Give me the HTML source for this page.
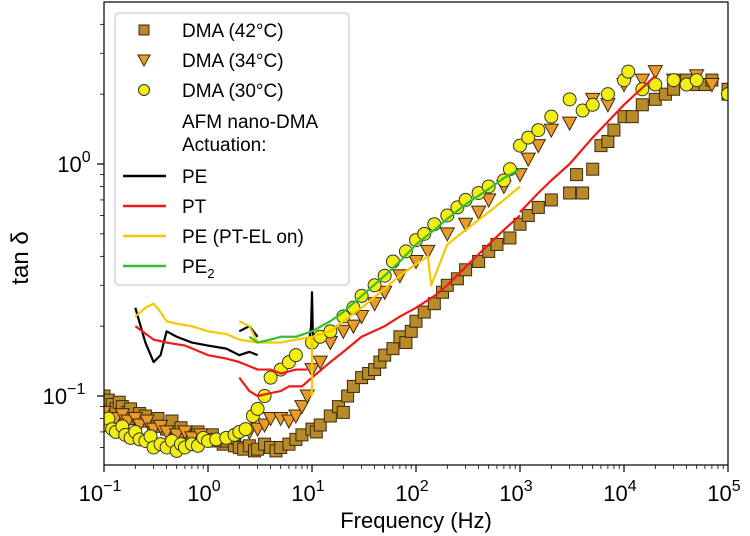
<!DOCTYPE html>
<html><head><meta charset="utf-8"><style>
html,body{margin:0;padding:0;background:#fff;}
svg{display:block;font-family:"Liberation Sans","DejaVu Sans",sans-serif;}
</style></head><body>
<svg id="chart" width="750" height="536" viewBox="0 0 750 536"></svg>
<script>
// ---- data (frequency in Hz, tan delta) ----
const sqF=[0.1,0.105,0.11,0.12,0.13,0.14,0.15,0.16,0.17,0.18,0.2,0.22,0.23,0.25,0.27,0.3,0.33,0.35,0.4,0.45,0.5,0.55,0.6,0.7,0.8,0.9,1,1.1,1.2,1.4,1.5,1.8,2,2.2,2.5,2.8,3,3.5,4,4.5,5,6,7,8,10,11,12,15,18,20,22,25,30,35,40,45,50,60,70,80,90,100,120,150,180,200,250,300,400,500,600,800,1000,1200,1500,2000,3000,3500,4000,5000,6000,7000,8000,10000,12000,15000,20000,25000,30000,40000,50000,60000,70000,100000,100000];
const sqV=[0.1,0.09,0.096,0.092,0.088,0.094,0.09,0.083,0.085,0.088,0.08,0.084,0.078,0.082,0.078,0.075,0.08,0.074,0.072,0.078,0.07,0.073,0.068,0.066,0.07,0.065,0.065,0.068,0.064,0.062,0.064,0.061,0.06,0.059,0.061,0.058,0.059,0.062,0.06,0.058,0.06,0.062,0.065,0.068,0.072,0.07,0.075,0.082,0.09,0.085,0.1,0.11,0.12,0.125,0.13,0.14,0.15,0.16,0.18,0.17,0.19,0.21,0.23,0.25,0.28,0.3,0.32,0.35,0.38,0.42,0.45,0.48,0.55,0.6,0.65,0.7,0.75,0.9,0.75,0.95,1.2,1.25,1.4,1.6,1.6,1.8,1.9,2.0,2.1,2.3,2.2,2.2,2.3,2.0,2.1,1.5];
const triF=[0.1,0.13,0.15,0.17,0.2,0.22,0.26,0.3,0.35,0.4,0.5,0.6,0.7,0.85,1,1.3,1.7,2,2.5,3,3.5,4,5,6,7,8,9,10,12,15,20,25,30,40,50,70,100,130,200,300,400,500,700,1000,1200,1500,2000,3000,5000,7000,10000,15000,20000,30000,50000,70000];
const triV=[0.085,0.08,0.083,0.078,0.08,0.075,0.078,0.072,0.074,0.07,0.068,0.07,0.066,0.068,0.065,0.064,0.066,0.068,0.07,0.072,0.075,0.08,0.08,0.078,0.082,0.09,0.1,0.13,0.14,0.17,0.19,0.2,0.22,0.25,0.28,0.33,0.38,0.42,0.5,0.55,0.62,0.7,0.8,0.9,1.05,1.2,1.4,1.5,1.9,1.8,2.2,2.3,2.5,2.3,2.4,2.2];
const cirF=[0.1,0.11,0.12,0.13,0.15,0.16,0.18,0.2,0.22,0.25,0.28,0.3,0.35,0.4,0.45,0.5,0.55,0.6,0.7,0.8,0.9,1,1.2,1.5,1.8,2,2.3,2.7,3,3.5,4,5,6,7,10,12,15,20,25,30,40,50,60,80,100,120,150,200,250,300,400,500,700,800,1000,1200,1500,2000,3000,4000,5000,7000,10000,11000,15000,20000,30000,40000,50000,100000];
const cirV=[0.075,0.08,0.072,0.07,0.074,0.068,0.066,0.07,0.065,0.064,0.067,0.06,0.062,0.06,0.064,0.058,0.062,0.06,0.062,0.061,0.066,0.064,0.065,0.066,0.068,0.07,0.072,0.082,0.088,0.1,0.12,0.13,0.14,0.15,0.17,0.18,0.19,0.22,0.24,0.27,0.3,0.33,0.38,0.42,0.47,0.5,0.55,0.6,0.65,0.7,0.75,0.8,0.85,0.95,1.2,1.3,1.4,1.6,1.9,1.7,1.8,2.0,2.3,2.5,2.1,2.2,2.3,2.2,2.3,2.0];
const peF=[[0.2,0.25,0.3,0.35,0.4,0.5,0.7,1,1.5,2,2.5,3],[2,2.5,3],[9.5,9.8,10,10.2]];
const peV=[[0.24,0.17,0.14,0.15,0.19,0.18,0.17,0.165,0.16,0.15,0.155,0.15],[0.19,0.2,0.18],[0.18,0.2,0.28,0.18]];
const ptF=[[0.2,0.3,0.4,0.6,1,1.5,2,3,4,5,7,9],[2,2.5,3,4,5,6,8,10,15,20,30,50,70,100,150,200,300,500,700,1000],[1000,1500,2000,3000,5000,10000,20000]];
const ptV=[[0.2,0.175,0.17,0.165,0.15,0.145,0.14,0.13,0.13,0.125,0.13,0.13],[0.12,0.105,0.1,0.103,0.105,0.11,0.11,0.12,0.14,0.155,0.18,0.2,0.22,0.24,0.27,0.3,0.36,0.45,0.52,0.6],[0.62,0.75,0.85,1.0,1.3,1.8,2.4]];
const yeF=[[0.2,0.25,0.3,0.35,0.4,0.5,0.7,1,1.5,2,3,5,7,10,15,20,30,50,70,100,120,130,140,200,300,500,700,1000],[2,2.5,3],[10,10,10]];
const yeV=[[0.22,0.24,0.25,0.23,0.21,0.205,0.2,0.19,0.185,0.175,0.17,0.17,0.175,0.18,0.19,0.21,0.24,0.29,0.33,0.37,0.39,0.4,0.3,0.45,0.52,0.62,0.7,0.8],[0.21,0.2,0.17],[0.18,0.13,0.1]];
const grF=[2.5,3,4,5,7,10,15,20,30,50,70,100,150,200,300,500,700,1000];
const grV=[0.18,0.17,0.175,0.18,0.18,0.19,0.21,0.23,0.27,0.33,0.38,0.45,0.52,0.58,0.67,0.78,0.87,0.95];
const xTicks=[-1,0,1,2,3,4,5];
const yTicks=[-1,0];

// ---- axes ----
const L=104,R=728,T=2,B=465;
const X=f=>L+(Math.log10(f)+1)*(R-L)/6;
const yDec=232, y0=164;
const Y=v=>y0-Math.log10(v)*yDec;
const NS="http://www.w3.org/2000/svg";
const svg=document.getElementById('chart');
function mk(tag,attrs,parent){const e=document.createElementNS(NS,tag);for(const k in attrs)e.setAttribute(k,attrs[k]);(parent||svg).appendChild(e);return e;}

const clip=mk('clipPath',{id:'pc'});mk('rect',{x:L,y:T,width:R-L,height:B-T},clip);
const plot=mk('g',{'clip-path':'url(#pc)'});



function square(f,v,g){const s=12;const e=mk('rect',{x:X(f)-s/2,y:Y(v)-s/2,width:s,height:s,fill:'#b88a2a',stroke:'#3a2a08','stroke-width':1},g);

}
function tri(f,v,g){const x=X(f),y=Y(v);const e=mk('polygon',{points:`${x-7},${y-6} ${x+7},${y-6} ${x},${y+7}`,fill:'#e89a2a',stroke:'#3a2a08','stroke-width':1},g);

}
function circ(f,v,g){const e=mk('circle',{cx:X(f),cy:Y(v),r:6.5,fill:'#f2ef10',stroke:'#333','stroke-width':1},g);

}
const gs=mk('g',{},plot);
sqF.forEach((f,i)=>square(f,sqV[i],gs));
const gt=mk('g',{},plot);
triF.forEach((f,i)=>tri(f,triV[i],gt));
const gc=mk('g',{},plot);
cirF.forEach((f,i)=>circ(f,cirV[i],gc));

function line(F,V,color,name){const p=mk('polyline',{points:F.map((f,i)=>X(f)+','+Y(V[i])).join(' '),fill:'none',stroke:color,'stroke-width':2.2,'stroke-linejoin':'round'},plot);

}
peF.forEach((F,k)=>line(F,peV[k],'#000','line-pe'));
ptF.forEach((F,k)=>line(F,ptV[k],'#f01818','line-pt'));
yeF.forEach((F,k)=>line(F,yeV[k],'#f5c800','line-pe-pt-el-on'));
line(grF,grV,'#30c030','line-pe2');

const fr=mk('rect',{x:L,y:T,width:R-L,height:B-T,fill:'none',stroke:'#000','stroke-width':1.2});


xTicks.forEach(d=>{const x=L+(d+1)*(R-L)/6;
mk('line',{x1:x,x2:x,y1:B,y2:B+7,stroke:'#000','stroke-width':1.2});
if(d<5)for(let m=2;m<10;m++){const xm=X(Math.pow(10,d)*m);mk('line',{x1:xm,x2:xm,y1:B,y2:B+4,stroke:'#000','stroke-width':0.8});}
const t=mk('text',{x:x-4,y:B+36,'text-anchor':'middle','font-size':22,fill:'#000'});

t.textContent='10';const s=mk('tspan',{dy:-10,'font-size':16},t);s.textContent=d<0?'\u2212'+(-d):String(d);});
yTicks.forEach(d=>{const y=y0-d*yDec;
mk('line',{x1:L-7,x2:L,y1:y,y2:y,stroke:'#000','stroke-width':1.2});
const t=mk('text',{x:d<0?L-40:L-30,y:y+8,'text-anchor':'middle','font-size':22,fill:'#000'});

t.textContent='10';const s=mk('tspan',{dy:-10,'font-size':16},t);s.textContent=d<0?'\u2212'+(-d):String(d);});
[-2,-1,0].forEach(d=>{for(let m=2;m<10;m++){const v=Math.pow(10,d)*m;const y=Y(v);if(y<T||y>B)continue;mk('line',{x1:L-4,x2:L,y1:y,y2:y,stroke:'#000','stroke-width':0.8});}});

const xl=mk('text',{x:416,y:528,'text-anchor':'middle','font-size':22,fill:'#000'});xl.textContent='Frequency (Hz)';

const yl=mk('text',{x:0,y:0,transform:'translate(28,258) rotate(-90)','text-anchor':'middle','font-size':24,fill:'#000'});yl.textContent='tan \u03b4';


const lg=mk('g',{});
mk('rect',{x:115,y:13,width:234,height:272,rx:4,fill:'#fff','fill-opacity':0.9,stroke:'#ccc','stroke-width':1.2},lg);
const rows=[30,60,90,121,144,176,206,236,266];
const labels=['DMA (42°C)','DMA (34°C)','DMA (30°C)','AFM nano-DMA','Actuation:','PE','PT','PE (PT-EL on)','PE'];
labels.forEach((s,i)=>{const t=mk('text',{x:182,y:rows[i]+7,'font-size':19,fill:'#000'},lg);t.textContent=s;

if(i==8){const sb=mk('tspan',{dy:5,'font-size':13},t);sb.textContent='2';}});
(function(){const x=144;let y=rows[0];mk('rect',{x:x-5,y:y-5,width:10,height:10,fill:'#b88a2a',stroke:'#3a2a08'},lg);
y=rows[1];mk('polygon',{points:`${x-6},${y-5} ${x+6},${y-5} ${x},${y+6}`,fill:'#e89a2a',stroke:'#3a2a08'},lg);
y=rows[2];mk('circle',{cx:x,cy:y,r:5.5,fill:'#f2ef10',stroke:'#333'},lg);
[['#000',5],['#f01818',6],['#f5c800',7],['#30c030',8]].forEach(([c,i])=>mk('line',{x1:123,x2:166,y1:rows[i],y2:rows[i],stroke:c,'stroke-width':2.5},lg));})();
</script>
</body></html>
